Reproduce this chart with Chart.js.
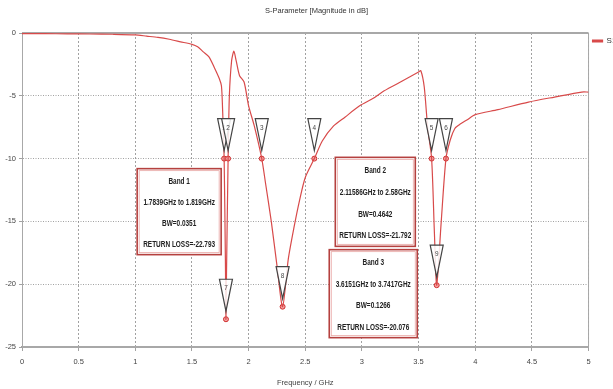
<!DOCTYPE html>
<html>
<head>
<meta charset="utf-8">
<script src="https://cdn.jsdelivr.net/npm/chart.js@4/dist/chart.umd.min.js"></script>
<style>
  html, body { margin: 0; padding: 0; background: #fff; overflow: hidden; }
  #wrap { width: 633px; height: 389px; }
</style>
</head>
<body>
<div id="wrap"><canvas id="sparam"></canvas></div>
<script>
// S1,1 curve
const freqGHz = [0, 0.2, 0.4, 0.6, 0.8, 1.0, 1.1, 1.2, 1.3, 1.4, 1.5, 1.55, 1.6, 1.65, 1.7, 1.74, 1.76, 1.77,
  1.7839, 1.795, 1.80, 1.805, 1.819, 1.83, 1.85, 1.87, 1.89, 1.92, 1.96, 2.0, 2.05, 2.1159, 2.15, 2.2, 2.25,
  2.30, 2.35, 2.4, 2.45, 2.5, 2.58, 2.65, 2.75, 2.85, 2.98, 3.1, 3.18, 3.3, 3.42, 3.5, 3.52, 3.55, 3.58,
  3.6151, 3.64, 3.66, 3.70, 3.7417, 3.78, 3.82, 3.86, 3.93, 4.0, 4.2, 4.47, 4.7, 4.94, 5.0];
const s11dB = [-0.05, -0.05, -0.07, -0.08, -0.1, -0.15, -0.25, -0.35, -0.5, -0.7, -0.9, -1.1, -1.5, -1.9, -2.8, -3.6, -4.2, -6,
  -10, -18, -22.79, -19, -10, -5, -2.2, -1.45, -2.2, -3.4, -3.9, -5.8, -7.4, -10, -12, -15, -18.5,
  -21.79, -18, -15.5, -13.3, -11.5, -10, -8.6, -7.4, -6.7, -5.8, -5.2, -4.7, -4.1, -3.5, -3.1, -3.0, -4.3, -7.5,
  -10, -16, -20.08, -15, -10, -8.5, -7.6, -7.3, -6.9, -6.5, -6.1, -5.5, -5.1, -4.7, -4.7];

// markers
const markerLabels = ['1', '2', '3', '4', '5', '6', '7', '8', '9'];
const markerFreq = [1.7839, 1.819, 2.1159, 2.58, 3.6151, 3.7417, 1.80, 2.30, 3.66];
const markerdB = [-10, -10, -10, -10, -10, -10, -22.79, -21.79, -20.08];

// band annotations
const bandTitles = ['Band 1', 'Band 2', 'Band 3'];
const bandRanges = ['1.7839GHz to 1.819GHz', '2.11586GHz to 2.58GHz', '3.6151GHz to 3.7417GHz'];
const bandBW = ['BW=0.0351', 'BW=0.4642', 'BW=0.1266'];
const bandRL = ['RETURN LOSS=-22.793', 'RETURN LOSS=-21.792', 'RETURN LOSS=-20.076'];

const xTicks = [0, 0.5, 1, 1.5, 2, 2.5, 3, 3.5, 4, 4.5, 5];
const yTicks = [0, -5, -10, -15, -20, -25];

const FONT = '"Liberation Sans", "DejaVu Sans", sans-serif';
const RED = '#d84a4a';

// where each band box sits: centre freq, top dB, size in px
const boxPlace = [
  { f: 1.387, db: -10.8, w: 84, h: 86 },
  { f: 3.118, db: -9.9, w: 80, h: 89 },
  { f: 3.10, db: -17.25, w: 88, h: 88 }
];

// draw text squeezed sideways, the reference uses a condensed face
function narrowText(ctx, text, x, y, squeeze) {
  ctx.save();
  ctx.translate(x, y);
  ctx.scale(squeeze, 1);
  ctx.fillText(text, 0, 0);
  ctx.restore();
}

const framePlugin = {
  id: 'frame',
  beforeDatasetsDraw(chart) {
    const { ctx, chartArea: a } = chart;
    ctx.save();
    ctx.strokeStyle = '#a8a8a8';
    ctx.lineWidth = 2;
    ctx.beginPath();
    ctx.moveTo(a.left, a.top); ctx.lineTo(a.right, a.top);
    ctx.moveTo(a.left, a.bottom); ctx.lineTo(a.right, a.bottom);
    ctx.stroke();
    ctx.lineWidth = 1;
    ctx.beginPath();
    ctx.moveTo(a.right, a.top); ctx.lineTo(a.right, a.bottom);
    ctx.moveTo(a.left + 0.5, a.top); ctx.lineTo(a.left + 0.5, a.bottom);
    ctx.stroke();
    ctx.restore();
  }
};

const markerPlugin = {
  id: 'markers',
  afterDatasetsDraw(chart) {
    const { ctx } = chart;
    const meta = chart.getDatasetMeta(1);
    ctx.save();
    meta.data.forEach((pt, i) => {
      const x = pt.x, y = pt.y;
      ctx.beginPath();
      ctx.moveTo(x - 6.5, y - 40);
      ctx.lineTo(x + 6.5, y - 40);
      ctx.lineTo(x, y - 8);
      ctx.closePath();
      ctx.fillStyle = 'rgba(255,255,255,0.85)';
      ctx.fill();
      ctx.strokeStyle = '#444';
      ctx.lineWidth = 1.2;
      ctx.stroke();
      ctx.fillStyle = '#444';
      ctx.font = '8px ' + FONT;
      ctx.textAlign = 'center';
      ctx.textBaseline = 'middle';
      narrowText(ctx, markerLabels[i], x, y - 31, 0.8);
    });
    ctx.restore();
  }
};

const bandPlugin = {
  id: 'bands',
  afterDraw(chart) {
    const { ctx, scales } = chart;
    ctx.save();
    boxPlace.forEach((b, i) => {
      const cx = scales.x.getPixelForValue(b.f);
      const top = scales.y.getPixelForValue(b.db);
      const left = cx - b.w / 2;
      ctx.fillStyle = '#fff';
      ctx.fillRect(left, top, b.w, b.h);
      ctx.strokeStyle = '#b5413f';
      ctx.lineWidth = 1.6;
      ctx.strokeRect(left, top, b.w, b.h);
      ctx.strokeStyle = '#e8a5a3';
      ctx.lineWidth = 0.8;
      ctx.strokeRect(left + 2, top + 2, b.w - 4, b.h - 4);
      ctx.fillStyle = '#222';
      ctx.font = 'bold 8.5px ' + FONT;
      ctx.textAlign = 'center';
      ctx.textBaseline = 'middle';
      const lines = [bandTitles[i], bandRanges[i], bandBW[i], bandRL[i]];
      const step = b.h / 4.1;
      lines.forEach((t, k) => narrowText(ctx, t, cx, top + step * (k + 0.62), 0.76));
    });
    ctx.restore();
  }
};

new Chart(document.getElementById('sparam'), {
  type: 'line',
  data: {
    datasets: [{
      label: 'S1,1',
      data: freqGHz.map((f, i) => ({ x: f, y: s11dB[i] })),
      borderColor: RED,
      backgroundColor: RED,
      borderWidth: 1.2,
      pointRadius: 0,
      tension: 0.25
    }, {
      label: 'markers',
      data: markerFreq.map((f, i) => ({ x: f, y: markerdB[i] })),
      showLine: false,
      pointRadius: 2.5,
      pointBorderWidth: 1,
      pointBorderColor: '#d03030',
      pointBackgroundColor: '#f4a0a0'
    }]
  },
  options: {
    responsive: true,
    maintainAspectRatio: false,
    animation: false,
    layout: { padding: { left: 0, right: 0, top: 0, bottom: 0 } },
    plugins: {
      title: {
        display: true,
        text: 'S-Parameter [Magnitude in dB]',
        color: '#333',
        font: { family: FONT, size: 7.5, weight: 'normal' },
        padding: { top: 6, bottom: 18 }
      },
      legend: {
        position: 'right',
        align: 'start',
        fullSize: false,
        labels: {
          boxWidth: 10,
          boxHeight: 2,
          padding: 4,
          color: '#333',
          font: { family: FONT, size: 8 },
          filter: item => item.datasetIndex === 0
        }
      },
      tooltip: { enabled: false }
    },
    scales: {
      x: {
        type: 'linear',
        min: 0,
        max: 5,
        afterBuildTicks: s => { s.ticks = xTicks.map(v => ({ value: v })); },
        ticks: {
          color: '#444',
          font: { family: FONT, size: 7.5 },
          padding: 6,
          maxRotation: 0,
          callback: v => String(v)
        },
        grid: { color: '#8a8a8a', tickLength: 4, lineWidth: 0.8 },
        border: { display: true, color: '#a0a0a0', width: 2, dash: [2, 2] },
        title: {
          display: true,
          text: 'Frequency / GHz',
          color: '#444',
          font: { family: FONT, size: 7.5 },
          padding: { top: 4, bottom: 2 }
        },
        afterFit: s => { s.height = 42; }
      },
      y: {
        min: -25,
        max: 0,
        afterBuildTicks: s => { s.ticks = yTicks.map(v => ({ value: v })); },
        ticks: { color: '#444', font: { family: FONT, size: 7.5 }, padding: 3, callback: v => String(v) },
        grid: { color: '#8a8a8a', tickLength: 3, lineWidth: 0.8 },
        border: { display: true, color: '#a0a0a0', width: 1, dash: [1, 1.5] },
        afterFit: s => { s.width = 22; }
      }
    }
  },
  plugins: [framePlugin, markerPlugin, bandPlugin]
});
</script>
</body>
</html>
